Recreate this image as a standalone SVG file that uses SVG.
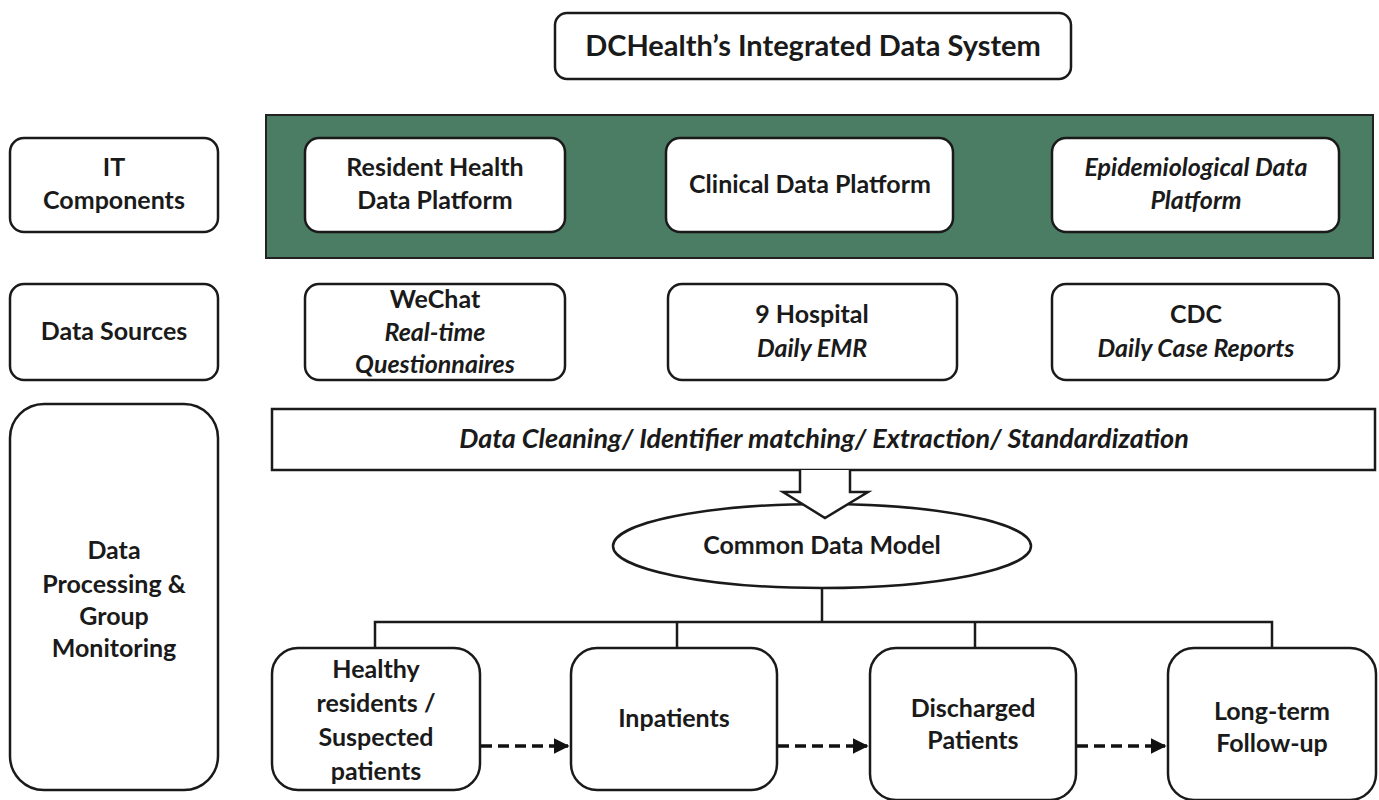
<svg xmlns="http://www.w3.org/2000/svg" width="1379" height="800" viewBox="0 0 1379 800">
<defs>
<style>
.box{fill:#fff;stroke:#1a1a1a;stroke-width:2.5}
.t{font-family:Lato,"Open Sans","Liberation Sans",sans-serif;font-weight:bold;font-size:25px;fill:#1a1a1a;text-anchor:middle}
.i{font-style:italic}
.ln{fill:none;stroke:#1a1a1a;stroke-width:2.5}
.dash{fill:none;stroke:#111;stroke-width:3.5;stroke-dasharray:11 6}
</style>
<marker id="ah" viewBox="0 0 10 10" refX="9" refY="5" markerWidth="4.5" markerHeight="4.5" orient="auto" markerUnits="strokeWidth">
<path d="M0,0 L10,5 L0,10 z" fill="#111"/>
</marker>
</defs>
<rect width="1379" height="800" fill="#fff"/>

<g id="title">
<rect class="box" x="555" y="13" width="516" height="66" rx="12"/>
<text class="t" x="813" y="56" style="font-size:29px">DCHealth’s Integrated Data System</text>
</g>

<g id="it-panel">
<rect x="266" y="115" width="1107" height="143" fill="#4a7d63" stroke="#222" stroke-width="2"/>
</g>

<g id="it-components">
<rect class="box" x="10" y="138" width="208" height="94" rx="14"/>
<text class="t" x="114" y="176">IT</text>
<text class="t" x="114" y="209">Components</text>
</g>
<g id="resident-health">
<rect class="box" x="305" y="138" width="260" height="94" rx="14"/>
<text class="t" x="435" y="176">Resident Health</text>
<text class="t" x="435" y="209">Data Platform</text>
</g>
<g id="clinical">
<rect class="box" x="666" y="138" width="287" height="94" rx="14"/>
<text class="t" x="810" y="193">Clinical  Data Platform</text>
</g>
<g id="epidemiological">
<rect class="box" x="1052" y="138" width="287" height="94" rx="14"/>
<text class="t i" x="1196" y="176">Epidemiological  Data</text>
<text class="t i" x="1196" y="209">Platform</text>
</g>

<g id="data-sources">
<rect class="box" x="10" y="284" width="208" height="96" rx="14"/>
<text class="t" x="114" y="340">Data Sources</text>
</g>
<g id="wechat">
<rect class="box" x="305" y="284" width="260" height="96" rx="14"/>
<text class="t" x="435" y="308">WeChat</text>
<text class="t i" x="435" y="341">Real-time</text>
<text class="t i" x="435" y="373">Questionnaires</text>
</g>
<g id="hospital">
<rect class="box" x="668" y="284" width="289" height="96" rx="14"/>
<text class="t" x="812" y="323">9 Hospital</text>
<text class="t i" x="812" y="357">Daily EMR</text>
</g>
<g id="cdc">
<rect class="box" x="1052" y="284" width="287" height="96" rx="14"/>
<text class="t" x="1196" y="323">CDC</text>
<text class="t i" x="1196" y="357">Daily Case Reports</text>
</g>

<g id="data-processing">
<rect class="box" x="10" y="404" width="208" height="386" rx="34"/>
<text class="t" x="114" y="559">Data</text>
<text class="t" x="114" y="593">Processing &amp;</text>
<text class="t" x="114" y="625">Group</text>
<text class="t" x="114" y="657">Monitoring</text>
</g>

<g id="cleaning">
<rect x="272" y="409" width="1103" height="61" fill="#fff" stroke="#1a1a1a" stroke-width="2.5"/>
<text class="t i" x="824" y="448" style="font-size:27px">Data Cleaning/ Identifier matching/ Extraction/ Standardization</text>
</g>

<g id="common-data-model">
<ellipse cx="822" cy="546" rx="209" ry="42" fill="#fff" stroke="#1a1a1a" stroke-width="2.5"/>
<text class="t" x="822" y="554">Common  Data Model</text>
</g>

<g id="healthy">
<rect class="box" x="272" y="648" width="208" height="142" rx="26"/>
<text class="t" x="376" y="678">Healthy</text>
<text class="t" x="376" y="712">residents /</text>
<text class="t" x="376" y="746">Suspected</text>
<text class="t" x="376" y="780">patients</text>
</g>
<g id="inpatients">
<rect class="box" x="571" y="648" width="206" height="142" rx="26"/>
<text class="t" x="674" y="727">Inpatients</text>
</g>
<g id="discharged">
<rect class="box" x="870" y="648" width="206" height="152" rx="26"/>
<text class="t" x="973" y="717">Discharged</text>
<text class="t" x="973" y="749">Patients</text>
</g>
<g id="long-term">
<rect class="box" x="1168" y="648" width="208" height="152" rx="26"/>
<text class="t" x="1272" y="720">Long-term</text>
<text class="t" x="1272" y="752">Follow-up</text>
</g>

<g id="connectors">
<path d="M800,470 L800,492 L783,492 L825,518 L868,492 L850,492 L850,470" fill="#fff" stroke="#1a1a1a" stroke-width="2.5" stroke-linejoin="miter"/>
<path class="ln" d="M822,588 L822,622"/>
<path class="ln" d="M375,648 L375,622 L1272,622 L1272,648"/>
<path class="ln" d="M677,622 L677,648"/>
<path class="ln" d="M975,622 L975,648"/>
<path class="dash" d="M481,746 L568,746" marker-end="url(#ah)"/>
<path class="dash" d="M778,746 L867,746" marker-end="url(#ah)"/>
<path class="dash" d="M1077,746 L1165,746" marker-end="url(#ah)"/>
</g>
</svg>
